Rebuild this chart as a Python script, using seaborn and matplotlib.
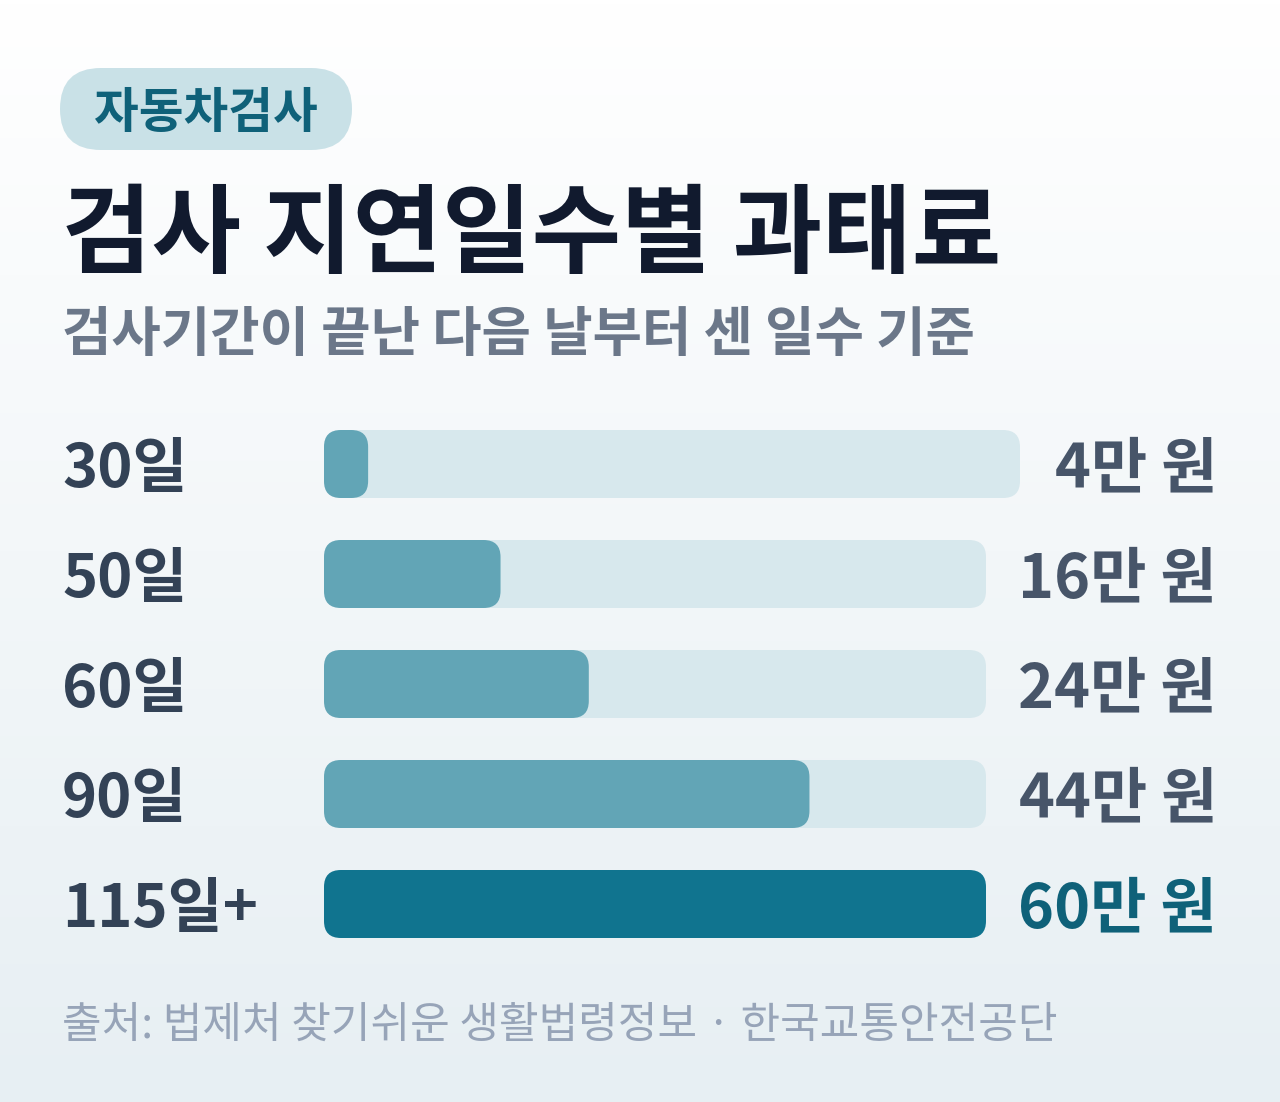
import numpy as np
import pandas as pd
import matplotlib
matplotlib.use("Agg")
import matplotlib.pyplot as plt
from matplotlib.patches import FancyBboxPatch
import seaborn as sns

# ---- data ----
days = ["30일", "50일", "60일", "90일", "115일+"]
fines = [4, 16, 24, 44, 60]          # 단위: 만 원
value_labels = [f"{v}만 원" for v in fines]
badge_text = "자동차검사"
title_text = "검사 지연일수별 과태료"
subtitle_text = "검사기간이 끝난 다음 날부터 센 일수 기준"
source_text = "출처: 법제처 찾기쉬운 생활법령정보 · 한국교통안전공단"

sns.set_theme(style="white")
plt.rcParams['font.family'] = ['Noto Sans CJK KR', 'DejaVu Sans']

W, H = 1280, 1102
fig = plt.figure(figsize=(W / 100, H / 100), dpi=100)

# background gradient axes in pixel coords
bg = fig.add_axes([0, 0, 1, 1])
bg.set_xlim(0, W)
bg.set_ylim(H, 0)
bg.axis("off")
top = np.array([255, 255, 255]) / 255
bot = np.array([231, 239, 243]) / 255
t = np.linspace(0, 1, 256)[:, None]
grad = (top[None, :] * (1 - t) + bot[None, :] * t)[:, None, :]
bg.imshow(grad, extent=[0, W, H, 0], aspect="auto", zorder=0)

# badge
bg.add_patch(FancyBboxPatch((60, 68), 292, 82, boxstyle="round,pad=0,rounding_size=41",
                            fc="#c9e1e7", ec="none", zorder=1))
bg.text(206, 113, badge_text, ha="center", va="center", fontsize=35, fontweight="bold",
        color="#0f6179", zorder=2)

bg.text(62, 236, title_text, ha="left", va="center", fontsize=70, fontweight="bold",
        color="#111a2e", zorder=2)
bg.text(62, 336, subtitle_text, ha="left", va="center", fontsize=38.7, fontweight="bold",
        color="#6b7789", zorder=2)
bg.text(62, 1026, source_text, ha="left", va="center", fontsize=31,
        color="#97a4b8", zorder=2)

# bars axes
x0, x1 = 324, 986
row_h = 110
y_top = 409
ax = fig.add_axes([x0 / W, 1 - (y_top + 5 * row_h) / H, (x1 - x0) / W, 5 * row_h / H])
ax.patch.set_alpha(0)
df = pd.DataFrame({"days": days, "fine": fines})
bar_h = 68 / row_h
palette = ["#62a5b6"] * 4 + ["#10748f"]
sns.barplot(data=df, x="fine", y="days", hue="days", palette=palette, orient="h",
            width=bar_h, ax=ax, legend=False, saturation=1)
ax.set_xlim(0, 60)
ax.set_ylim(4.5, -0.5)
ax.axis("off")

px_per_x = (x1 - x0) / 60
px_per_y = row_h
aspect = px_per_x / px_per_y
radius = 17 / px_per_x
track_end_px = [1020, 986, 986, 986, 986]

bars = list(ax.patches)
for i, p in enumerate(bars):
    bx, by, bw, bh = p.get_x(), p.get_y(), p.get_width(), p.get_height()
    fc = p.get_facecolor()
    p.remove()
    tw = (track_end_px[i] - x0) / px_per_x
    ax.add_patch(FancyBboxPatch((0, by), tw, bh,
                                boxstyle=f"round,pad=0,rounding_size={radius}",
                                mutation_aspect=aspect, fc="#d7e8ed", ec="none",
                                zorder=1, clip_on=False))
    ax.add_patch(FancyBboxPatch((bx, by), bw, bh,
                                boxstyle=f"round,pad=0,rounding_size={radius}",
                                mutation_aspect=aspect, fc=fc, ec="none",
                                zorder=2, clip_on=False))

for i, (d, lab) in enumerate(zip(days, value_labels)):
    yc = y_top + row_h * i + row_h / 2 + 6
    bg.text(62, yc, d, ha="left", va="center", fontsize=43, fontweight="bold",
            color="#334256", zorder=3)
    col = "#0f6179" if i == len(days) - 1 else "#475569"
    bg.text(1217, yc, lab, ha="right", va="center", fontsize=44, fontweight="bold",
            color=col, zorder=3)

fig.savefig("out.png", dpi=100)
